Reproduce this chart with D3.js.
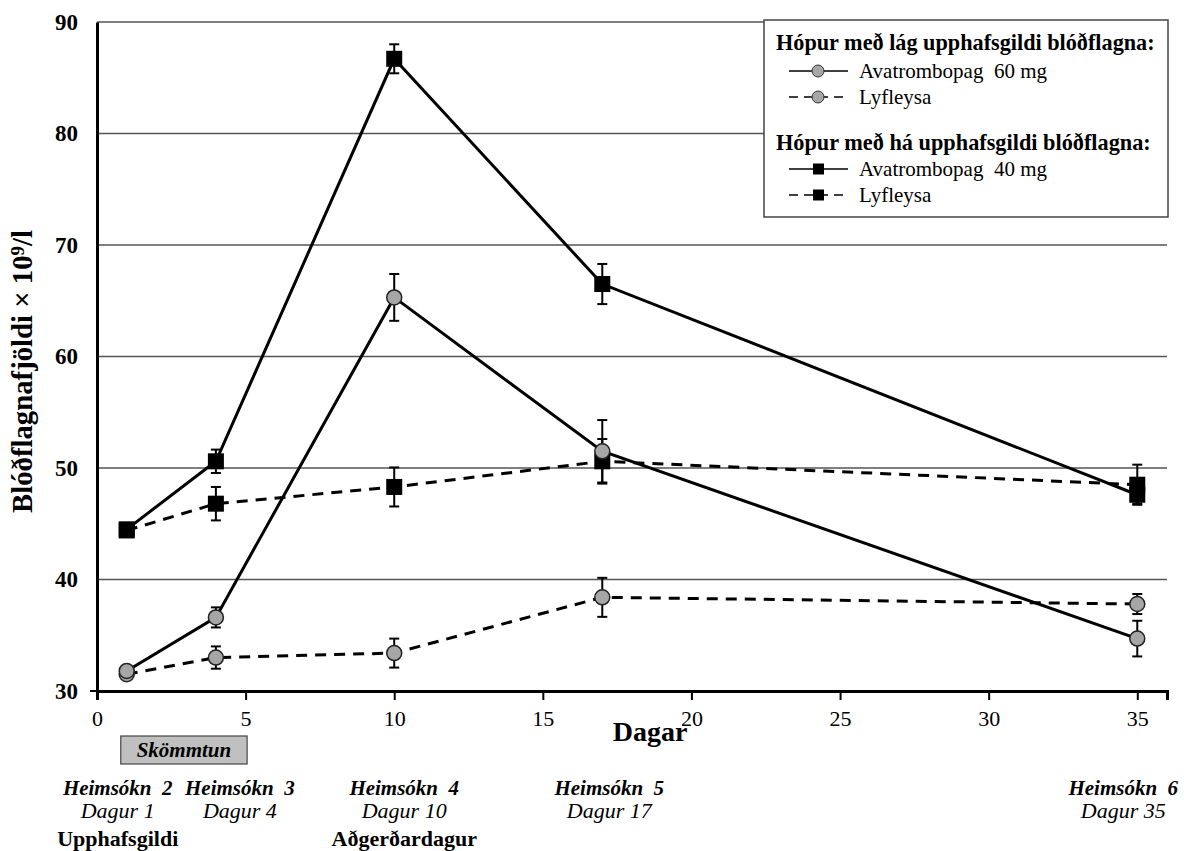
<!DOCTYPE html>
<html>
<head>
    <meta charset="utf-8" />
    <script src="https://d3js.org/d3.v7.min.js"></script>
    <style>
        body { margin: 0; background: #fff; }
        svg text { font-family: "Liberation Serif", "Times New Roman", serif; }
    </style>
</head>
<body>
<svg id="chart" width="1184" height="851"></svg>
<script>
    // data
    var days = [1, 4, 10, 17, 35];
    var lowAva = [31.8, 36.6, 65.3, 51.5, 34.7];
    var lowAvaErr = [0, 0.9, 2.1, 2.8, 1.6];
    var lowPla = [31.5, 33.0, 33.4, 38.4, 37.8];
    var lowPlaErr = [0, 1.0, 1.3, 1.75, 0.9];
    var highAva = [44.5, 50.6, 86.7, 66.5, 47.6];
    var highAvaErr = [0, 1.05, 1.3, 1.8, 0.8];
    var highPla = [44.4, 46.8, 48.3, 50.6, 48.5];
    var highPlaErr = [0, 1.5, 1.75, 2.0, 1.8];

    var xTicks = [0, 5, 10, 15, 20, 25, 30, 35];
    var yTicks = [30, 40, 50, 60, 70, 80, 90];

    var visitNames = ["Heimsókn\u00a0\u00a02", "Heimsókn\u00a0\u00a03", "Heimsókn\u00a0\u00a04", "Heimsókn\u00a0\u00a05", "Heimsókn\u00a0\u00a06"];
    var visitDays = ["Dagur 1", "Dagur 4", "Dagur 10", "Dagur 17", "Dagur 35"];
    var visitNotes = ["Upphafsgildi", "", "Aðgerðardagur", "", ""];
    var dosingRange = [0.8, 5.05];

    // series table
    var series = [
        { name: "highPla", vals: highPla, err: highPlaErr, shape: "square", dashed: true },
        { name: "highAva", vals: highAva, err: highAvaErr, shape: "square", dashed: false },
        { name: "lowPla", vals: lowPla, err: lowPlaErr, shape: "circle", dashed: true },
        { name: "lowAva", vals: lowAva, err: lowAvaErr, shape: "circle", dashed: false }
    ];

    var svg = d3.select("#chart");

    // scale a text's font size so that it spans the given width
    function fitWidth(sel, target) {
        var fs = parseFloat(sel.style("font-size"));
        var w = sel.node().getComputedTextLength();
        if (w > 0) sel.style("font-size", (fs * target / w) + "px");
    }

    var x = d3.scaleLinear().domain([0, 36]).range([97, 1167]);
    var y = d3.scaleLinear().domain([30, 90]).range([691, 22]);

    // gridlines
    svg.append("g")
        .selectAll("line")
        .data(yTicks.slice(1))
        .enter().append("line")
        .attr("x1", x(0)).attr("x2", x(36))
        .attr("y1", d => y(d)).attr("y2", d => y(d))
        .attr("stroke", "#555").attr("stroke-width", 1.5);

    // x axis
    var xAxis = svg.append("g")
        .attr("transform", "translate(0," + y(30) + ")")
        .call(d3.axisBottom(x).tickValues(xTicks).tickSize(9).tickPadding(10));
    xAxis.select(".domain").attr("stroke-width", 3);
    xAxis.selectAll(".tick line").attr("stroke-width", 2);
    xAxis.selectAll(".tick text")
        .style("font-family", "Liberation Serif").style("font-size", "22px").attr("fill", "#000");

    // y axis
    var yAxis = svg.append("g")
        .attr("transform", "translate(" + x(0) + ",0)")
        .call(d3.axisLeft(y).tickValues(yTicks).tickSize(0).tickPadding(19));
    yAxis.select(".domain").attr("stroke-width", 3);
    yAxis.selectAll(".tick text")
        .style("font-family", "Liberation Serif").style("font-size", "23px")
        .style("font-weight", "bold").attr("fill", "#000");
    svg.append("line")
        .attr("x1", x(0) - 7).attr("x2", x(0))
        .attr("y1", y(30)).attr("y2", y(30))
        .attr("stroke", "#000").attr("stroke-width", 2);

    // axis titles
    var yTitle = svg.append("text")
        .attr("transform", "translate(32,513) rotate(-90)")
        .attr("text-anchor", "start")
        .style("font-size", "23px").style("font-weight", "bold")
        .html("Blóðflagnafjöldi × 10<tspan dy='-8' font-size='0.65em'>9</tspan><tspan dy='8'>/l</tspan>");
    fitWidth(yTitle, 283);

    svg.append("text")
        .attr("x", 650).attr("y", 741)
        .attr("text-anchor", "middle")
        .style("font-size", "28px").style("font-weight", "bold")
        .text("Dagar");

    // lines
    var line = d3.line()
        .x((d, i) => x(days[i]))
        .y(d => y(d));

    svg.append("g").selectAll("path")
        .data(series)
        .enter().append("path")
        .attr("d", d => line(d.vals))
        .attr("fill", "none")
        .attr("stroke", "#000")
        .attr("stroke-width", 3)
        .attr("stroke-dasharray", d => d.dashed ? "11,8" : null);

    // error bars + markers, series by series
    series.forEach(function (s) {
        var g = svg.append("g");
        var pts = s.vals.map((v, i) => ({ day: days[i], v: v, e: s.err[i] }));
        var eb = g.selectAll(".eb").data(pts.filter(p => p.e > 0)).enter().append("g");
        eb.append("line")
            .attr("x1", p => x(p.day)).attr("x2", p => x(p.day))
            .attr("y1", p => y(p.v + p.e)).attr("y2", p => y(p.v - p.e))
            .attr("stroke", "#000").attr("stroke-width", 2);
        [1, -1].forEach(function (sg) {
            eb.append("line")
                .attr("x1", p => x(p.day) - 5).attr("x2", p => x(p.day) + 5)
                .attr("y1", p => y(p.v + sg * p.e)).attr("y2", p => y(p.v + sg * p.e))
                .attr("stroke", "#000").attr("stroke-width", 2);
        });
        if (s.shape === "square") {
            g.selectAll("rect").data(pts).enter().append("rect")
                .attr("x", p => x(p.day) - 8).attr("y", p => y(p.v) - 8)
                .attr("width", 16).attr("height", 16)
                .attr("fill", "#000");
        } else {
            g.selectAll("circle").data(pts).enter().append("circle")
                .attr("cx", p => x(p.day)).attr("cy", p => y(p.v))
                .attr("r", 7.5)
                .attr("fill", "#a6a6a6").attr("stroke", "#222").attr("stroke-width", 1.5);
        }
    });

    // legend
    var lg = svg.append("g");
    lg.append("rect")
        .attr("x", 764).attr("y", 20).attr("width", 404).attr("height", 197)
        .attr("fill", "#fff").attr("stroke", "#444").attr("stroke-width", 1.5);

    var legendGroups = [
        { title: "Hópur með lág upphafsgildi blóðflagna:", ty: 50, tw: 379,
          items: [{ label: "Avatrombopag\u00a0\u00a060 mg", shape: "circle", dashed: false, y: 71 },
                  { label: "Lyfleysa", shape: "circle", dashed: true, y: 97 }] },
        { title: "Hópur með há upphafsgildi blóðflagna:", ty: 150, tw: 375,
          items: [{ label: "Avatrombopag\u00a0\u00a040 mg", shape: "square", dashed: false, y: 169 },
                  { label: "Lyfleysa", shape: "square", dashed: true, y: 195 }] }
    ];
    legendGroups.forEach(function (grp) {
        var t = lg.append("text").attr("x", 776).attr("y", grp.ty)
            .style("font-size", "20px").style("font-weight", "bold")
            .text(grp.title);
        fitWidth(t, grp.tw);
        grp.items.forEach(function (it) {
            lg.append("line")
                .attr("x1", 789).attr("x2", 848).attr("y1", it.y).attr("y2", it.y)
                .attr("stroke", "#000").attr("stroke-width", 1.3)
                .attr("stroke-dasharray", it.dashed ? "9,6" : null);
            if (it.shape === "circle") {
                lg.append("circle").attr("cx", 818).attr("cy", it.y).attr("r", 6)
                    .attr("fill", "#a6a6a6").attr("stroke", "#333").attr("stroke-width", 1);
            } else {
                lg.append("rect").attr("x", 813).attr("y", it.y - 5.5).attr("width", 11).attr("height", 11)
                    .attr("fill", "#000");
            }
            lg.append("text").attr("x", 859).attr("y", it.y + 7)
                .style("font-size", "21px").text(it.label);
        });
    });

    // dosing box
    svg.append("rect")
        .attr("x", x(dosingRange[0])).attr("y", 736)
        .attr("width", x(dosingRange[1]) - x(dosingRange[0])).attr("height", 28)
        .attr("fill", "#c0c0c0").attr("stroke", "#444").attr("stroke-width", 1.2);
    svg.append("text")
        .attr("x", (x(dosingRange[0]) + x(dosingRange[1])) / 2).attr("y", 757)
        .attr("text-anchor", "middle")
        .style("font-size", "21px").style("font-weight", "bold").style("font-style", "italic")
        .text("Skömmtun");

    // visit annotations (pixel nudges to match the original layout)
    var visitShift = [-9, 24, 10, 7, -14];
    days.forEach(function (d, i) {
        var cx = x(d) + visitShift[i];
        svg.append("text").attr("x", cx).attr("y", 795).attr("text-anchor", "middle")
            .style("font-size", "21px").style("font-weight", "bold").style("font-style", "italic")
            .text(visitNames[i]);
        svg.append("text").attr("x", cx).attr("y", 818).attr("text-anchor", "middle")
            .style("font-size", "22px").style("font-style", "italic")
            .text(visitDays[i]);
        if (visitNotes[i]) {
            svg.append("text").attr("x", cx).attr("y", 846).attr("text-anchor", "middle")
                .style("font-size", "22px").style("font-weight", "bold")
                .text(visitNotes[i]);
        }
    });
</script>
</body>
</html>
